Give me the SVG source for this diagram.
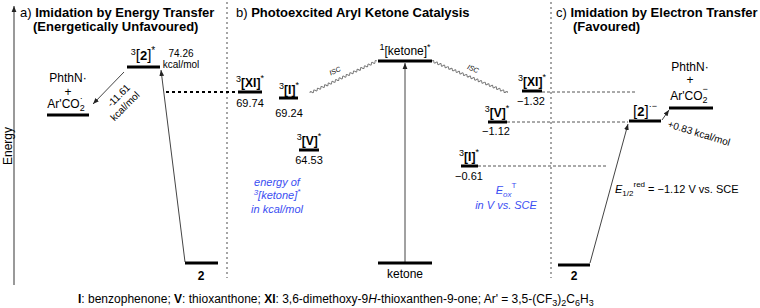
<svg xmlns="http://www.w3.org/2000/svg" width="760" height="308" viewBox="0 0 760 308">
<defs>
<style>
text{font-family:"Liberation Sans",Arial,sans-serif;fill:#000;}
.t{font-size:13px;font-weight:bold;}
.lv{stroke:#000;stroke-width:3;}
.lb{font-size:12px;text-anchor:middle;}
.num{font-size:11px;text-anchor:middle;}
.sm{font-size:10px;}
.blue{fill:#3b4ef2;font-style:italic;font-size:11px;text-anchor:middle;}
.sep{stroke:#888;stroke-width:1.5;stroke-dasharray:2,3;fill:none;}
.dl{stroke:#555;stroke-width:1;stroke-dasharray:3,2;fill:none;}
.ar{stroke:#444;stroke-width:1;fill:none;marker-end:url(#ah);}
.wv{stroke:#777;stroke-width:1;fill:none;}
</style>
<marker id="ah" viewBox="0 0 10 10" refX="10" refY="5" markerWidth="6" markerHeight="6" orient="auto" markerUnits="userSpaceOnUse">
<path d="M0,1 L10,5 L0,9 Z" fill="#222"/>
</marker>
</defs>
<rect width="760" height="308" fill="#fff"/>

<!-- energy axis -->
<g id="axis">
<line x1="14" y1="285" x2="14" y2="6" stroke="#777" stroke-width="1.5" marker-end="url(#ah)"/>
<text transform="translate(12,146) rotate(-90)" font-size="12" text-anchor="middle">Energy</text>
</g>

<!-- titles -->
<g id="titles">
<text x="20" y="17" class="t"><tspan font-weight="normal">a) </tspan>Imidation by Energy Transfer</text>
<text x="33" y="31" class="t">(Energetically Unfavoured)</text>
<text x="236" y="17" class="t"><tspan font-weight="normal">b) </tspan>Photoexcited Aryl Ketone Catalysis</text>
<text x="556" y="17" class="t"><tspan font-weight="normal">c) </tspan>Imidation by Electron Transfer</text>
<text x="573" y="31" class="t">(Favoured)</text>
</g>

<!-- separators -->
<g id="separators">
<line x1="227" y1="2" x2="227" y2="278" class="sep"/>
<line x1="551" y1="2" x2="551" y2="278" class="sep"/>
</g>

<!-- connectors -->
<g id="connectors">
<line x1="185" y1="262" x2="161" y2="70" class="ar"/>
<line x1="124" y1="72" x2="93" y2="104" class="ar"/>
<line x1="166" y1="92" x2="236" y2="92" stroke="#000" stroke-width="2" stroke-dasharray="3,3"/>
<line x1="405" y1="262" x2="405" y2="63" class="ar" stroke="#666"/>
<g transform="translate(310,93) rotate(-25.5)">
<path class="wv" d="M0,0 q1,-2 2,0 t2,0 t2,0 t2,0 t2,0 t2,0 t2,0 t2,0 t2,0 t2,0 t2,0 t2,0 t2,0 t2,0 t2,0 t2,0 t2,0 t2,0 t2,0 t2,0 t2,0 t2,0 t2,0 t2,0 t2,0 t2,0 t2,0 t2,0 t2,0 t2,0 t2,0 t2,0 t2,0 t2,0 t2,0 t2,0 t2,0"/>
</g>
<g transform="translate(432,61) rotate(22.8)">
<path class="wv" d="M0,0 q1,-2 2,0 t2,0 t2,0 t2,0 t2,0 t2,0 t2,0 t2,0 t2,0 t2,0 t2,0 t2,0 t2,0 t2,0 t2,0 t2,0 t2,0 t2,0 t2,0 t2,0 t2,0 t2,0 t2,0 t2,0 t2,0 t2,0 t2,0 t2,0 t2,0 t2,0 t2,0 t2,0 t2,0 t2,0 t2,0 t2,0 t2,0 t2,0 t2,0 t2,0 t2,0"/>
</g>
<text transform="translate(336,73) rotate(-25.5)" font-size="7" font-style="italic" text-anchor="middle">ISC</text>
<text transform="translate(472,71) rotate(22.8)" font-size="7" font-style="italic" text-anchor="middle">ISC</text>
<line x1="542" y1="92" x2="635" y2="92" class="dl"/>
<line x1="507" y1="122" x2="628" y2="122" class="dl"/>
<line x1="478" y1="166" x2="608" y2="166" class="dl"/>
<line x1="590" y1="263" x2="628" y2="124" class="ar" stroke="#333"/>
<line x1="662" y1="120" x2="669" y2="110" class="ar"/>
</g>

<!-- panel a -->
<g id="a-2star">
<line x1="127" y1="67" x2="160" y2="67" class="lv"/>
<text x="143" y="60" class="lb"><tspan font-size="9" dy="-5">3</tspan><tspan font-size="15" dy="5">[</tspan><tspan font-weight="bold" font-size="13">2</tspan><tspan font-size="15">]</tspan><tspan font-size="10" dy="-6">*</tspan></text>
<text x="181" y="57" class="sm" text-anchor="middle">74.26</text>
<text x="181" y="68" class="sm" text-anchor="middle">kcal/mol</text>
</g>
<g id="a-products">
<line x1="47" y1="115" x2="89" y2="115" class="lv"/>
<text x="68" y="82" class="lb">PhthN·</text>
<text x="68" y="96" class="lb">+</text>
<text x="66" y="108" class="lb">Ar'CO<tspan font-size="9" dy="3">2</tspan><tspan font-size="9" dx="-5" dy="-10">·</tspan></text>
</g>
<g id="a-label">
<g transform="translate(121,98) rotate(-45)">
<text x="0" y="0" class="sm" text-anchor="middle">-11.61</text>
<text x="-3" y="12" class="sm" text-anchor="middle">kcal/mol</text>
</g>
</g>
<g id="a-2">
<line x1="185" y1="263" x2="218" y2="263" class="lv"/>
<text x="201" y="280" class="lb" font-weight="bold">2</text>
</g>

<!-- panel b -->
<g id="b-XI">
<line x1="238" y1="92" x2="262" y2="92" class="lv"/>
<text x="250" y="87" class="lb"><tspan font-size="9" dy="-5">3</tspan><tspan dy="5" font-weight="bold">[XI]</tspan><tspan font-size="9" dy="-6">*</tspan></text>
<text x="250" y="107" class="num">69.74</text>
</g>
<g id="b-I">
<line x1="279" y1="98" x2="298" y2="98" class="lv"/>
<text x="289" y="94" class="lb"><tspan font-size="9" dy="-5">3</tspan><tspan dy="5" font-weight="bold">[I]</tspan><tspan font-size="9" dy="-6">*</tspan></text>
<text x="289" y="117" class="num">69.24</text>
</g>
<g id="b-V">
<line x1="299" y1="150" x2="319" y2="150" class="lv"/>
<text x="309" y="145" class="lb"><tspan font-size="9" dy="-5">3</tspan><tspan dy="5" font-weight="bold">[V]</tspan><tspan font-size="9" dy="-6">*</tspan></text>
<text x="309" y="164" class="num">64.53</text>
</g>
<g id="b-note">
<text x="277" y="186" class="blue">energy of</text>
<text x="277" y="199" class="blue"><tspan font-size="8" dy="-4">3</tspan><tspan dy="4">[ketone]</tspan><tspan font-size="8" dy="-5">*</tspan></text>
<text x="277" y="213" class="blue">in kcal/mol</text>
</g>
<g id="b-ketone-s1">
<line x1="378" y1="61" x2="432" y2="61" class="lv"/>
<text x="405" y="55" class="lb"><tspan font-size="9" dy="-5">1</tspan><tspan dy="5">[ketone]</tspan><tspan font-size="9" dy="-5">*</tspan></text>
</g>
<g id="b-ketone">
<line x1="378" y1="263" x2="432" y2="263" class="lv"/>
<text x="405" y="278" class="lb">ketone</text>
</g>
<g id="b-XI-r">
<line x1="522" y1="91" x2="542" y2="91" class="lv"/>
<text x="532" y="86" class="lb"><tspan font-size="9" dy="-5">3</tspan><tspan dy="5" font-weight="bold">[XI]</tspan><tspan font-size="9" dy="-6">*</tspan></text>
<text x="531" y="105" class="num">−1.32</text>
</g>
<g id="b-V-r">
<line x1="488" y1="122" x2="507" y2="122" class="lv"/>
<text x="497" y="117" class="lb"><tspan font-size="9" dy="-5">3</tspan><tspan dy="5" font-weight="bold">[V]</tspan><tspan font-size="9" dy="-6">*</tspan></text>
<text x="496" y="135" class="num">−1.12</text>
</g>
<g id="b-I-r">
<line x1="461" y1="166" x2="478" y2="166" class="lv"/>
<text x="469" y="161" class="lb"><tspan font-size="9" dy="-5">3</tspan><tspan dy="5" font-weight="bold">[I]</tspan><tspan font-size="9" dy="-6">*</tspan></text>
<text x="469" y="180" class="num">−0.61</text>
</g>
<g id="b-note-r">
<text x="506" y="194" class="blue">E<tspan font-size="8" dy="3">ox</tspan><tspan font-size="8" dy="-9" font-style="normal">T</tspan></text>
<text x="506" y="209" class="blue">in V vs. SCE</text>
</g>

<!-- panel c -->
<g id="c-radical-anion">
<line x1="629" y1="121" x2="661" y2="121" class="lv"/>
<text x="645" y="116" class="lb"><tspan font-size="15">[</tspan><tspan font-weight="bold" font-size="13">2</tspan><tspan font-size="15">]</tspan><tspan font-size="9" dy="-7">·−</tspan></text>
</g>
<g id="c-products">
<line x1="669" y1="108" x2="713" y2="108" class="lv"/>
<text x="690" y="71" class="lb">PhthN·</text>
<text x="690" y="84" class="lb">+</text>
<text x="689" y="100" class="lb">Ar'CO<tspan font-size="9" dy="3">2</tspan><tspan font-size="9" dx="-5" dy="-11">−</tspan></text>
<text transform="translate(667,127) rotate(17)" class="sm">+0.83 kcal/mol</text>
</g>
<g id="c-2">
<line x1="558" y1="265" x2="590" y2="265" class="lv"/>
<text x="574" y="280" class="lb" font-weight="bold">2</text>
<text x="615" y="193" font-size="11"><tspan font-style="italic">E</tspan><tspan font-size="8" dy="3">1/2</tspan><tspan font-size="8" dy="-9">red</tspan><tspan dy="6"> = −1.12 V vs. SCE</tspan></text>
</g>

<!-- footer -->
<g id="footer">
<text x="78" y="303" font-size="12"><tspan font-weight="bold">I</tspan>: benzophenone; <tspan font-weight="bold">V</tspan>: thioxanthone; <tspan font-weight="bold">XI</tspan>: 3,6-dimethoxy-9<tspan font-style="italic">H</tspan>-thioxanthen-9-one; Ar' = 3,5-(CF<tspan font-size="9" dy="3">3</tspan><tspan dy="-3">)</tspan><tspan font-size="9" dy="3">2</tspan><tspan dy="-3">C</tspan><tspan font-size="9" dy="3">6</tspan><tspan dy="-3">H</tspan><tspan font-size="9" dy="3">3</tspan></text>
</g>
</svg>
